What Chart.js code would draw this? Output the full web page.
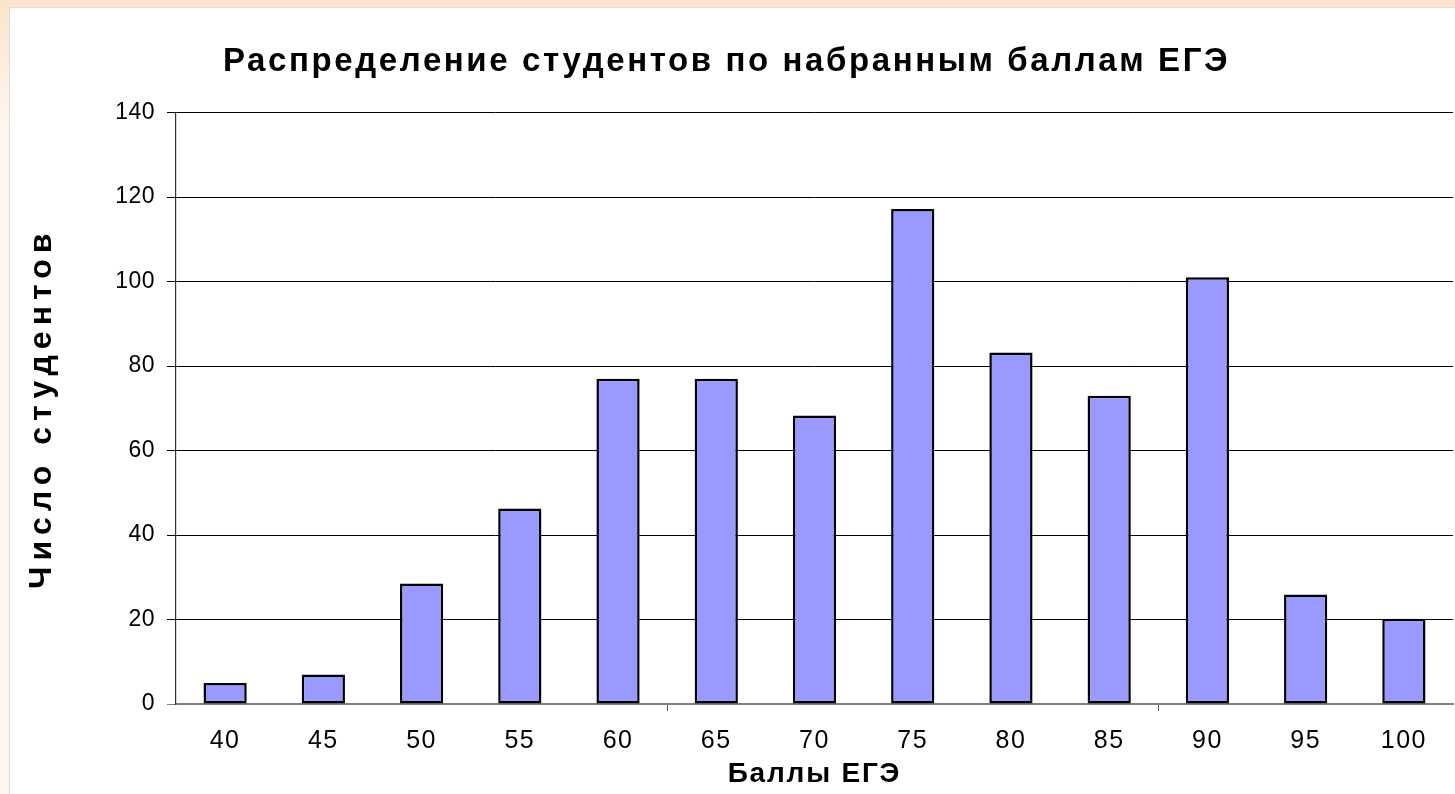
<!DOCTYPE html>
<html>
<head>
<meta charset="utf-8">
<script src="https://cdn.jsdelivr.net/npm/chart.js@4"></script>
<style>
  html, body { margin: 0; padding: 0; background: #fff; }
  #wrap { position: absolute; left: 0; top: 0; width: 1455px; height: 794px; }
</style>
</head>
<body>
<div id="wrap"><canvas id="c" width="1455" height="794"></canvas></div>
<script>
const categories = ['40', '45', '50', '55', '60', '65', '70', '75', '80', '85', '90', '95', '100'];
const students = [5, 7, 28.5, 46.3, 77, 77, 68.3, 117.2, 83.2, 73, 101, 25.9, 20.2];
const chartTitle = 'Распределение студентов по набранным баллам ЕГЭ';
const xTitle = 'Баллы ЕГЭ';
const yTitle = 'Число студентов';

const FONT = "'Liberation Sans', Arial, sans-serif";
// letter spacing by font size (px) to mimic the spaced-out original rendering
const SPACING = { 33: '2.6px', 28: '1.8px', 32: '6px', 25: '1.5px', 23: '0.5px' };

const spacingPlugin = {
  id: 'spacing',
  beforeInit(chart) {
    const ctx = chart.ctx;
    const desc = Object.getOwnPropertyDescriptor(CanvasRenderingContext2D.prototype, 'font');
    Object.defineProperty(ctx, 'font', {
      configurable: true,
      get() { return desc.get.call(this); },
      set(v) {
        desc.set.call(this, v);
        const m = /(\d+(?:\.\d+)?)px/.exec(v);
        const s = m ? SPACING[Math.round(parseFloat(m[1]))] : undefined;
        this.letterSpacing = s || '0px';
      }
    });
  }
};

const bgPlugin = {
  id: 'bg',
  beforeDraw(chart) {
    const ctx = chart.ctx;
    ctx.save();
    const g = ctx.createLinearGradient(0, 0, 0, 120);
    g.addColorStop(0, '#fbe4cc');
    g.addColorStop(1, '#fdf5ee');
    ctx.fillStyle = g;
    ctx.fillRect(0, 0, chart.width, chart.height);
    ctx.fillStyle = '#ffffff';
    ctx.fillRect(9, 7, chart.width - 9, chart.height - 7);
    ctx.strokeStyle = '#e2dcd6';
    ctx.lineWidth = 1;
    ctx.beginPath();
    ctx.moveTo(9.5, chart.height);
    ctx.lineTo(9.5, 7.5);
    ctx.lineTo(chart.width, 7.5);
    ctx.stroke();
    ctx.restore();
  }
};

new Chart(document.getElementById('c'), {
  type: 'bar',
  data: {
    labels: categories,
    datasets: [{
      data: students,
      backgroundColor: '#9999ff',
      borderColor: '#000000',
      borderWidth: 2.5,
      borderSkipped: false,
      barPercentage: 0.44,
      categoryPercentage: 1.0
    }]
  },
  options: {
    responsive: false,
    animation: false,
    devicePixelRatio: 1,
    layout: { padding: { left: 0, right: 2, top: 0, bottom: 0 } },
    plugins: {
      legend: { display: false },
      tooltip: { enabled: false },
      title: {
        display: true,
        text: chartTitle,
        color: '#000',
        font: { family: FONT, size: 33, weight: 'bold', lineHeight: 1.2 },
        padding: { top: 42, bottom: 31 }
      }
    },
    scales: {
      x: {
        grid: {
          offset: true,
          drawOnChartArea: false,
          drawTicks: true,
          tickLength: 7,
          lineWidth: 1,
          color: (c) => (c.index === 5 || c.index === 10) ? '#555555' : 'rgba(0,0,0,0)'
        },
        border: { display: true, color: '#808080', width: 2 },
        ticks: {
          color: '#000',
          font: { family: FONT, size: 25 },
          padding: 15,
          maxRotation: 0,
          autoSkip: false
        },
        title: {
          display: true,
          text: xTitle,
          color: '#000',
          font: { family: FONT, size: 28, weight: 'bold', lineHeight: 1.2 },
          padding: { top: 0, bottom: 3 }
        },
        afterFit(scale) { scale.height = 90; }
      },
      y: {
        min: 0,
        max: 140,
        ticks: {
          stepSize: 20,
          color: '#000',
          font: { family: FONT, size: 23 },
          padding: 12
        },
        grid: {
          color: (c) => c.tick && c.tick.value === 0 ? '#808080' : '#000000',
          lineWidth: 1,
          tickLength: 9,
          drawTicks: true
        },
        border: { display: true, color: '#333333', width: 1.2 },
        title: {
          display: true,
          text: yTitle,
          color: '#000',
          font: { family: FONT, size: 32, weight: 'bold', lineHeight: 1.2 },
          padding: { top: 23, bottom: 0 }
        },
        afterFit(scale) { scale.width = 176; }
      }
    }
  },
  plugins: [spacingPlugin, bgPlugin]
});
</script>
</body>
</html>
